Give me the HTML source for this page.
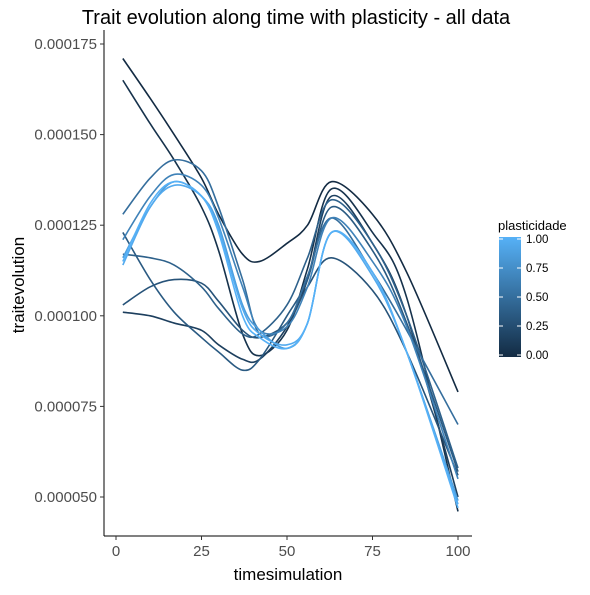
<!DOCTYPE html>
<html><head><meta charset="utf-8">
<style>
body{margin:0;background:#fff;}
svg text{font-family:"Liberation Sans",Arial,sans-serif;}
</style></head>
<body>
<svg id="chart" width="590" height="590" xmlns="http://www.w3.org/2000/svg">
<defs>
<linearGradient id="grad" x1="0" y1="1" x2="0" y2="0">
<stop offset="0" stop-color="#132B43"/><stop offset="1" stop-color="#56B1F7"/>
</linearGradient>
</defs>
<text x="296" y="24" font-size="20" text-anchor="middle" fill="#000">Trait evolution along time with plasticity - all data</text>
<g id="plot"></g>
<line x1="104" y1="30" x2="104" y2="536" stroke="#000" stroke-width="1"/>
<line x1="104" y1="536" x2="472" y2="536" stroke="#000" stroke-width="1"/>
<g id="yticks"></g><g id="xticks"></g>
<text x="288" y="580" font-size="17" text-anchor="middle">timesimulation</text>
<text transform="translate(24,285) rotate(-90)" font-size="17" text-anchor="middle">traitevolution</text>
<g>
<text x="498" y="230" font-size="13">plasticidade</text>
<rect x="499" y="237" width="22" height="120" fill="url(#grad)"/>
<g id="legticks"></g>
</g>
</svg>
<script>
const xs = [2,10,17,25,30,37,42,50,56,63,75,85,100];
const plast = [0.0,0.05,0.15,0.3,0.35,0.4,0.5,0.65,0.85,0.95,1.0];
const s1 = [171,160,150,138,128,117,115,120,125,137,128,112,79];
const s2 = [165,153,143,130,118,95,89,96,113,135,123,105,46];
const s3 = [101,100,98,96,92,88,88,97,110,133,120,100,50];
const s4 = [103,108,110,109,104,96,94,98,108,116,107,90,56];
const s5 = [123,110,101,94,90,85,88,100,110,130,118,98,57];
const s6 = [117,116,114,108,102,95,95,103,116,132,120,100,58];
const s7 = [128,138,143,140,130,110,95,98,111,127,112,96,70];
const s8 = [121,133,139,136,127,108,96,97,108,127,115,97,55];
const s9 = [116,130,137,133,125,103,96,91,98,123,112,90,49];
const s10 = [114,130,136,133,124,102,95,92,98,123,111,90,48];
const s11 = [115,131,137,133,123,100,94,91,98,123,112,90,47];
const series = [s1,s2,s3,s4,s5,s6,s7,s8,s9,s10,s11];
const yTicks = [50,75,100,125,150,175];
const yTickLabels = ["0.000050","0.000075","0.000100","0.000125","0.000150","0.000175"];
const xTicks = [0,25,50,75,100];
const legVals = [0,0.25,0.5,0.75,1];
const legLabels = ["0.00","0.25","0.50","0.75","1.00"];

const NS="http://www.w3.org/2000/svg";
const X = v => 116 + v*3.42;
const Y = v => 497 - (v-50)*3.624;
function col(t){
  const a=[0x13,0x2B,0x43], b=[0x56,0xB1,0xF7];
  return "rgb("+a.map((c,i)=>Math.round(c+(b[i]-c)*t)).join(",")+")";
}
function mk(tag, attrs, parent){
  const e=document.createElementNS(NS,tag);
  for(const k in attrs) e.setAttribute(k,attrs[k]);
  parent.appendChild(e); return e;
}
const plot=document.getElementById('plot');
series.forEach((s,i)=>{
  const p=xs.map((x,j)=>[X(x),Y(s[j])]);
  let d="M"+p[0][0]+","+p[0][1];
  for(let j=0;j<p.length-1;j++){
    const p0=p[j-1]||p[j], p1=p[j], p2=p[j+1], p3=p[j+2]||p[j+1];
    const c1=[p1[0]+(p2[0]-p0[0])/6, p1[1]+(p2[1]-p0[1])/6];
    const c2=[p2[0]-(p3[0]-p1[0])/6, p2[1]-(p3[1]-p1[1])/6];
    d+=" C"+c1[0]+","+c1[1]+" "+c2[0]+","+c2[1]+" "+p2[0]+","+p2[1];
  }
  const path=mk('path',{d:d,fill:'none',stroke:col(plast[i]),'stroke-width':1.6},plot);
  
  
});
const yt=document.getElementById('yticks');
yTicks.forEach((v,i)=>{
  const l=mk('line',{x1:100,x2:104,y1:Y(v),y2:Y(v),stroke:'#333'},yt);
  
  
  const t=mk('text',{x:97,y:Y(v)+5,'font-size':15,'text-anchor':'end',fill:'#4d4d4d'},yt);
  t.textContent=yTickLabels[i];
  
  
});
const xt=document.getElementById('xticks');
xTicks.forEach(v=>{
  const l=mk('line',{x1:X(v),x2:X(v),y1:536,y2:540,stroke:'#333'},xt);
  
  
  const t=mk('text',{x:X(v),y:556,'font-size':15,'text-anchor':'middle',fill:'#4d4d4d'},xt);
  t.textContent=String(v);
  
  
});
const lt=document.getElementById('legticks');
legVals.forEach((v,i)=>{
  const y=355-v*116;
  const a=mk('line',{x1:499,x2:503,y1:y,y2:y,stroke:'#fff'},lt);
  
  
  const b=mk('line',{x1:517,x2:521,y1:y,y2:y,stroke:'#fff'},lt);
  
  
  const t=mk('text',{x:526,y:y+4,'font-size':11.5},lt);
  t.textContent=legLabels[i];
  
  
});
</script>
</body></html>
